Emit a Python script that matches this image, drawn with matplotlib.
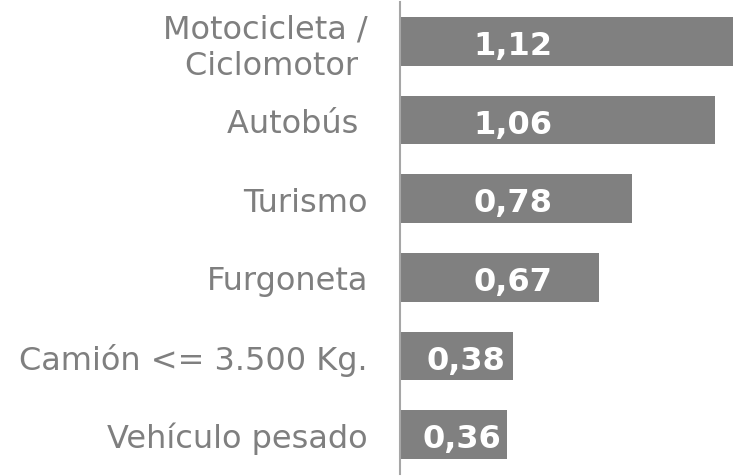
import matplotlib.pyplot as plt

# vehicle categories, top to bottom as in the chart
categories = ['Motocicleta /\nCiclomotor ', 'Autobús ', 'Turismo', 'Furgoneta',
              'Camión <= 3.500 Kg.', 'Vehículo pesado']
values = [1.12, 1.06, 0.78, 0.67, 0.38, 0.36]
value_labels = ['1,12', '1,06', '0,78', '0,67', '0,38', '0,36']

fig = plt.figure(figsize=(7.4, 4.77), dpi=100)
ax = fig.add_axes([400 / 740, 2 / 477, 340 / 740, 472 / 477])

ypos = list(range(len(categories)))
ax.barh(ypos, values, height=0.615, color='#808080')

# value labels inside the bars
for y, v, lab in zip(ypos, values, value_labels):
    x = min(0.38, v * 0.58)
    ax.annotate(lab, (x, y), xytext=(0, -3), textcoords='offset points',
                ha='center', va='center', color='white',
                fontsize=23, fontweight='bold')

ax.set_ylim(len(categories) - 0.5, -0.5)
ax.set_xlim(0, 340 / 297.3)
ax.set_yticks(ypos)
ax.set_yticklabels(categories, fontsize=23, color='#7f7f7f')
ax.tick_params(axis='y', length=0, pad=23)
ax.xaxis.set_visible(False)

for side in ['top', 'right', 'bottom']:
    ax.spines[side].set_visible(False)
ax.spines['left'].set_color('#a6a6a6')
ax.spines['left'].set_linewidth(1.5)

fig.savefig('out.png', dpi=100)
